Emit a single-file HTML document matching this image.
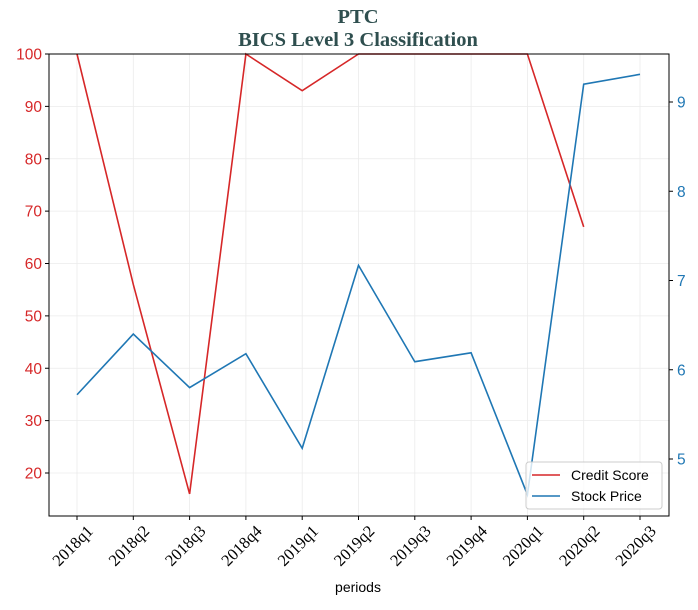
<!DOCTYPE html>
<html><head><meta charset="utf-8"><style>
body{margin:0;background:#fff;}
svg text{font-family:"Liberation Sans",sans-serif;}
</style></head><body>
<svg id="chart" width="698" height="605" xmlns="http://www.w3.org/2000/svg">
<text x="358" y="23" text-anchor="middle" font-weight="bold" font-size="20.5" fill="#2f4f4f" style="font-family:'Liberation Serif',serif">PTC</text>
<text x="358" y="46" text-anchor="middle" font-weight="bold" font-size="20.5" fill="#2f4f4f" style="font-family:'Liberation Serif',serif">BICS Level 3 Classification</text>
<g id="grid"></g>
<g id="axes"></g>
<g id="series"></g>
<rect x="49" y="54" width="620" height="462" fill="none" stroke="#000" stroke-width="1"/>
<text x="358" y="592" text-anchor="middle" font-size="14">periods</text>
<g>
<rect x="526" y="462" width="136" height="47" rx="3" fill="#fff" fill-opacity="0.8" stroke="#ccc"/>
<line x1="532" y1="475" x2="560" y2="475" stroke="#d62728" stroke-width="1.5"/>
<text x="571" y="480" font-size="14">Credit Score</text>
<line x1="532" y1="496" x2="560" y2="496" stroke="#1f77b4" stroke-width="1.5"/>
<text x="571" y="501" font-size="14">Stock Price</text>
</g>
</svg>
<script>
const periods=["2018q1","2018q2","2018q3","2018q4","2019q1","2019q2","2019q3","2019q4","2020q1","2020q2","2020q3"];
const creditScore=[100,56,16,100,93,100,100,100,100,67,null];
const stockPrice=[5.72,6.40,5.80,6.18,5.12,7.17,6.09,6.19,4.60,9.20,9.31];
const leftTicks=[20,30,40,50,60,70,80,90,100];
const rightTicks=[5,6,7,8,9];
const NS="http://www.w3.org/2000/svg";
const X0=49,X1=669,Y0=54,Y1=516;
const xS=i=>77+i*(640-77)/(periods.length-1);
const yL=v=>473+(v-20)*(54-473)/80;
const yR=v=>459+(v-5)*(-89.25);
function mk(t,a,p){const e=document.createElementNS(NS,t);for(const k in a)e.setAttribute(k,a[k]);p.appendChild(e);return e;}
const grid=document.getElementById('grid'),axes=document.getElementById('axes'),ser=document.getElementById('series');
periods.forEach((p,i)=>{
 const x=xS(i);
 const g=mk('line',{x1:x,x2:x,y1:Y0,y2:Y1,stroke:'#ebebeb','stroke-width':0.8},grid);
 
 
 mk('line',{x1:x,x2:x,y1:Y1,y2:Y1+4,stroke:'#000'},axes);
 const ax=x+17,ay=Y1+16;
 const t=mk('text',{x:ax,y:ay,'font-size':16.5,'text-anchor':'end',transform:`rotate(-45 ${ax} ${ay})`,style:"font-family:'Liberation Serif',serif"},axes);
 t.textContent=p;
 
 
});
leftTicks.forEach(v=>{
 const y=yL(v);
 const g=mk('line',{x1:X0,x2:X1,y1:y,y2:y,stroke:'#ebebeb','stroke-width':0.8},grid);
 
 
 mk('line',{x1:X0-4,x2:X0,y1:y,y2:y,stroke:'#000'},axes);
 const t=mk('text',{x:X0-7,y:y+5.5,'font-size':15.5,'text-anchor':'end',fill:'#d62728'},axes);
 t.textContent=v;
 
 
});
rightTicks.forEach(v=>{
 const y=yR(v);
 mk('line',{x1:X1,x2:X1+4,y1:y,y2:y,stroke:'#000'},axes);
 const t=mk('text',{x:X1+8,y:y+5.5,'font-size':15.5,fill:'#1f77b4'},axes);
 t.textContent=v;
 
 
});
function path(vals,ys,color,name){
 let d='';let pen=false;
 vals.forEach((v,i)=>{if(v==null){pen=false;return;}d+=(pen?'L':'M')+xS(i)+' '+ys(v)+' ';pen=true;});
 const p=mk('path',{d:d,fill:'none',stroke:color,'stroke-width':1.6},ser);
 
 
}
path(creditScore,yL,'#d62728','credit-score-line');
path(stockPrice,yR,'#1f77b4','stock-price-line');
</script>
</body></html>
